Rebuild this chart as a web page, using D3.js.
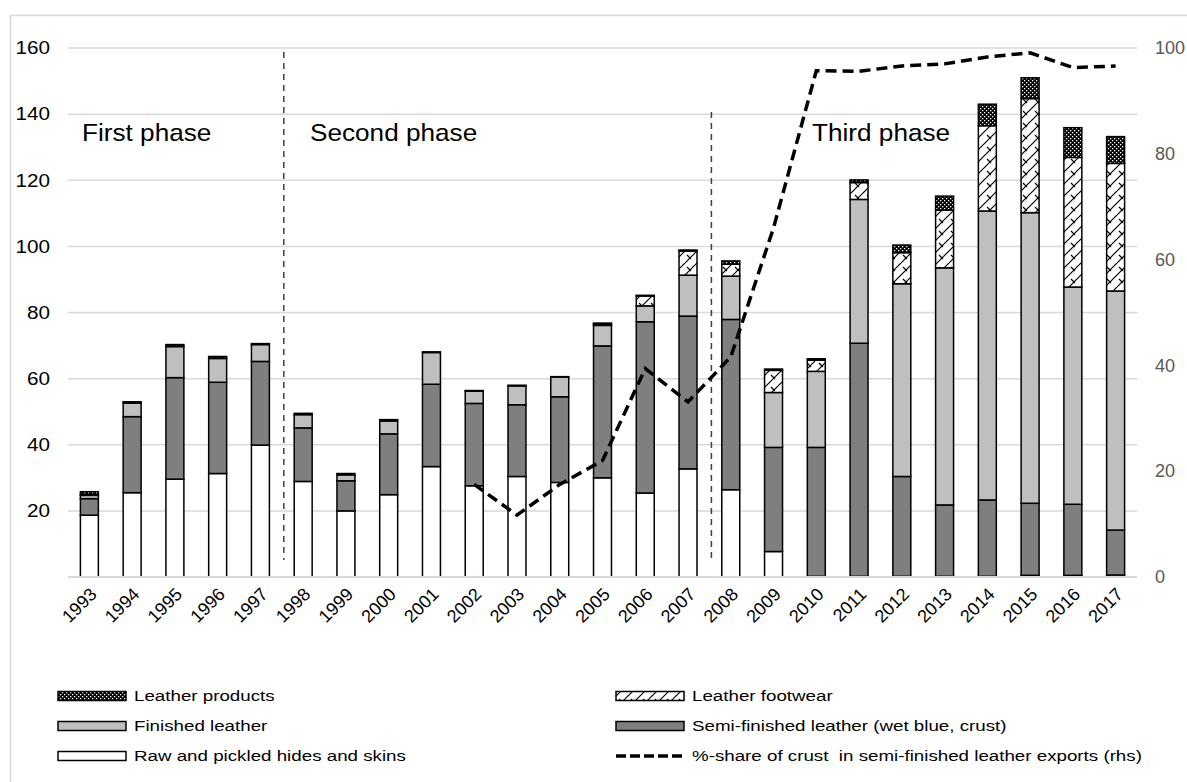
<!DOCTYPE html>
<html>
<head>
<meta charset="utf-8">
<script src="https://cdn.jsdelivr.net/npm/d3@7"></script>
<style>
  body { margin: 0; background: #fff; }
  svg { display: block; }
  text { font-family: "Liberation Sans", Arial, sans-serif; }
</style>
</head>
<body>
<div id="chart"></div>
<script>
// data (US$ million, line in % on right axis)
var years = ['1993','1994','1995','1996','1997','1998','1999','2000','2001','2002','2003','2004','2005',
  '2006','2007','2008','2009','2010','2011','2012','2013','2014','2015','2016','2017'];
var rawHides = [18.7,25.5,29.6,31.3,39.9,28.9,20.0,24.9,33.4,27.6,30.4,28.6,30.0,
  25.4,32.7,26.4,7.7,0.2,0.2,0.2,0.2,0.2,0.5,0.5,0.6];
var semiFinished = [5.0,23.0,30.7,27.6,25.3,16.2,9.1,18.4,24.9,24.9,21.7,25.9,39.9,
  51.8,46.2,51.5,31.5,39.0,70.5,30.2,21.6,23.1,21.8,21.5,13.6];
var finished = [1.0,4.1,9.4,7.2,5.1,4.0,1.8,3.9,9.6,3.7,5.7,6.0,6.2,
  4.8,12.4,13.1,16.6,23.0,43.5,58.3,71.7,87.4,87.9,65.7,72.3];
var footwear = [0.2,0,0,0,0,0,0,0,0,0,0,0,0.4,
  3.0,7.3,3.6,6.7,3.4,5.1,9.4,17.5,25.8,34.5,39.2,38.6];
var products = [0.9,0.4,0.6,0.6,0.3,0.4,0.4,0.4,0.2,0.2,0.2,0.1,0.3,
  0.2,0.3,1.0,0.4,0.4,0.8,2.3,4.2,6.5,6.3,9.0,8.1];
var crustYears = ['2002','2003','2004','2005','2006','2007','2008','2009','2010','2011','2012','2013','2014','2015','2016','2017'];
var crustShare = [17.5,11.7,17.5,22,39.4,33.1,41.6,66,95.7,95.6,96.6,97.0,98.3,99.1,96.3,96.6];
var leftTicks = [20,40,60,80,100,120,140,160];
var rightTicks = [0,20,40,60,80,100];
var phases = ['First phase','Second phase','Third phase'];

var W = 1187, H = 782;
var svg = d3.select('#chart').append('svg').attr('width', W).attr('height', H);

// fill patterns
var defs = svg.append('defs');
var pProd = defs.append('pattern').attr('id', 'pProd').attr('patternUnits', 'userSpaceOnUse')
  .attr('width', 4).attr('height', 4);
pProd.append('rect').attr('width', 4).attr('height', 4).attr('fill', '#000');
pProd.append('rect').attr('x', 0).attr('y', 0).attr('width', 1.3).attr('height', 1.3).attr('fill', '#fff');
pProd.append('rect').attr('x', 2).attr('y', 2).attr('width', 1.3).attr('height', 1.3).attr('fill', '#fff');

var pFoot = defs.append('pattern').attr('id', 'pFoot').attr('patternUnits', 'userSpaceOnUse')
  .attr('width', 12).attr('height', 12);
pFoot.append('rect').attr('width', 12).attr('height', 12).attr('fill', '#fff');
pFoot.append('path').attr('d', 'M0,12 L12,0 M-3,3 L3,-3 M9,15 L15,9 M3,3 L7,7')
  .attr('stroke', '#000').attr('stroke-width', 1.2).attr('fill', 'none');

var keys = ['raw', 'semi', 'fin', 'foot', 'prod'];
var fills = { raw: '#fff', semi: '#7f7f7f', fin: '#bfbfbf', foot: 'url(#pFoot)', prod: 'url(#pProd)' };
var table = years.map(function (y, i) {
  return { year: y, raw: rawHides[i], semi: semiFinished[i], fin: finished[i], foot: footwear[i], prod: products[i] };
});

// outer frame
svg.append('rect').attr('x', 10.5).attr('y', 15.5).attr('width', 1200).attr('height', 800)
  .attr('fill', 'none').attr('stroke', '#d9d9d9').attr('stroke-width', 1.5);

var x = d3.scaleBand().domain(years).range([68, 1137]).paddingInner(0.58).paddingOuter(0.29);
var y = d3.scaleLinear().domain([0, 160]).range([577, 48]);
var y2 = d3.scaleLinear().domain([0, 100]).range([577, 48]);

// grid
svg.append('g').selectAll('line').data(leftTicks).join('line')
  .attr('x1', 68).attr('x2', 1137)
  .attr('y1', function (d) { return y(d); }).attr('y2', function (d) { return y(d); })
  .attr('stroke', '#d9d9d9').attr('stroke-width', 1.5);

// left axis labels (text a bit wide in the source picture)
var yAxis = svg.append('g').attr('transform', 'translate(50,0)')
  .call(d3.axisLeft(y).tickValues(leftTicks).tickSize(0).tickPadding(0));
yAxis.select('.domain').remove();
yAxis.selectAll('text').attr('font-size', 18).attr('fill', '#000')
  .attr('font-family', '"Liberation Sans", Arial, sans-serif')
  .attr('transform', 'scale(1.15,1)');

// right axis labels
var y2Axis = svg.append('g').attr('transform', 'translate(1155,0)')
  .call(d3.axisRight(y2).tickValues(rightTicks).tickSize(0).tickPadding(0));
y2Axis.select('.domain').remove();
y2Axis.selectAll('text').attr('font-size', 18).attr('fill', '#595959')
  .attr('font-family', '"Liberation Sans", Arial, sans-serif');

// stacked bars
var series = d3.stack().keys(keys)(table);
svg.append('g').selectAll('g').data(series).join('g')
  .attr('fill', function (s) { return fills[s.key]; })
  .selectAll('rect').data(function (s) { return s.filter(function (d) { return d[1] - d[0] > 0; }); }).join('rect')
  .attr('x', function (d) { return x(d.data.year); })
  .attr('width', x.bandwidth())
  .attr('y', function (d) { return y(d[1]); })
  .attr('height', function (d) { return y(d[0]) - y(d[1]); })
  .attr('stroke', '#000').attr('stroke-width', 1.5);

// baseline
svg.append('line').attr('x1', 68).attr('x2', 1137).attr('y1', y(0)).attr('y2', y(0))
  .attr('stroke', '#d9d9d9').attr('stroke-width', 2);

// x labels
svg.append('g').selectAll('text').data(years).join('text')
  .attr('transform', function (d) { return 'translate(' + (x(d) + x.bandwidth() / 2 + 4) + ',591) rotate(-45)'; })
  .attr('text-anchor', 'end').attr('dy', '0.35em').attr('font-size', 18).text(function (d) { return d; });

// phase separators
var sep = [{ a: '1997', b: '1998', top: 52 }, { a: '2007', b: '2008', top: 112 }];
svg.append('g').selectAll('line').data(sep).join('line')
  .attr('x1', function (d) { return (x(d.a) + x(d.b) + x.bandwidth()) / 2 + 2; })
  .attr('x2', function (d) { return (x(d.a) + x(d.b) + x.bandwidth()) / 2 + 2; })
  .attr('y1', function (d) { return d.top; }).attr('y2', 560)
  .attr('stroke', '#404040').attr('stroke-width', 1.5).attr('stroke-dasharray', '6,5');

// phase titles
var phaseX = [82, 310, 812];
svg.append('g').selectAll('text').data(phases).join('text')
  .attr('transform', function (d, i) { return 'translate(' + phaseX[i] + ',141) scale(1.09,1)'; })
  .attr('font-family', 'Lato, "Open Sans", sans-serif').attr('font-size', 24)
  .text(function (d) { return d; });

// crust share line
var line = d3.line()
  .x(function (d, i) { return x(crustYears[i]) + x.bandwidth() / 2; })
  .y(function (d) { return y2(d); });
svg.append('path').datum(crustShare).attr('d', line)
  .attr('fill', 'none').attr('stroke', '#000').attr('stroke-width', 3.5)
  .attr('stroke-dasharray', '11,6');

// legend
var legend = [
  { label: 'Leather products', fill: fills.prod, col: 0, row: 0 },
  { label: 'Leather footwear', fill: fills.foot, col: 1, row: 0 },
  { label: 'Finished leather', fill: fills.fin, col: 0, row: 1 },
  { label: 'Semi-finished leather (wet blue, crust)', fill: fills.semi, col: 1, row: 1 },
  { label: 'Raw and pickled hides and skins', fill: fills.raw, col: 0, row: 2 },
  { label: '%-share of crust  in semi-finished leather exports (rhs)', line: true, col: 1, row: 2 }
];
var colX = [58, 616];
var lg = svg.append('g').selectAll('g').data(legend).join('g')
  .attr('transform', function (d) { return 'translate(' + colX[d.col] + ',' + (696 + d.row * 30) + ')'; });
lg.filter(function (d) { return !d.line; }).append('rect')
  .attr('x', 0).attr('y', -4.5).attr('width', 68).attr('height', 9)
  .attr('fill', function (d) { return d.fill; }).attr('stroke', '#000').attr('stroke-width', 1.5);
lg.filter(function (d) { return d.line; }).append('line')
  .attr('x1', 0).attr('x2', 68).attr('y1', 0).attr('y2', 0)
  .attr('stroke', '#000').attr('stroke-width', 3.5).attr('stroke-dasharray', '10,4');
lg.append('text').attr('transform', 'translate(76,0) scale(1.25,1)').attr('dy', '0.35em').attr('font-size', 15)
  .style('white-space', 'pre').text(function (d) { return d.label; });
</script>
</body>
</html>
